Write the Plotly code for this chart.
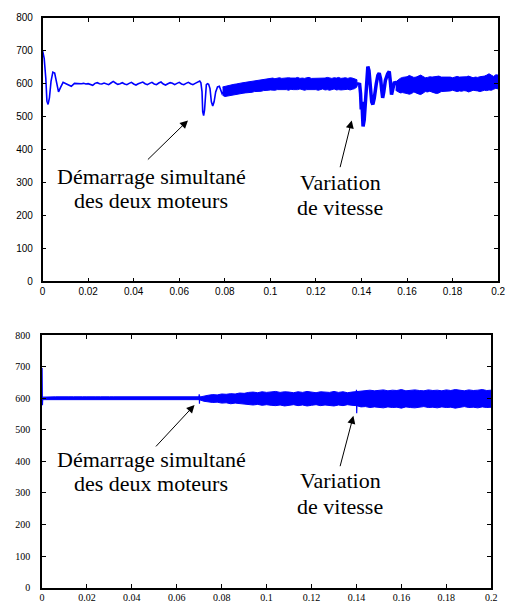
import plotly.graph_objects as go

W, H = 511, 605
BLUE = "#0000FF"

# ---------------- TOP PANEL DATA ----------------
# thin start-up line (0 .. 0.0794 s)
t_top_line = [0, 0.0002, 0.0007, 0.0014, 0.0019, 0.0024, 0.0030, 0.0037, 0.0045, 0.0053,
              0.0062, 0.0070, 0.0079, 0.0090, 0.0105, 0.0126,
              0.014, 0.015, 0.016, 0.017, 0.018, 0.019, 0.020, 0.021, 0.022, 0.023,
              0.024, 0.025, 0.026, 0.027, 0.028, 0.029, 0.030, 0.031, 0.032, 0.033,
              0.034, 0.035, 0.036, 0.037, 0.038, 0.039, 0.040, 0.041, 0.042, 0.043,
              0.044, 0.045, 0.046, 0.047, 0.048, 0.049, 0.050, 0.051, 0.052, 0.053,
              0.054, 0.055, 0.056, 0.057, 0.058, 0.059, 0.060, 0.061, 0.062, 0.063,
              0.064, 0.065, 0.066, 0.067, 0.068, 0.069, 0.0695,
              0.0700, 0.0703, 0.0707, 0.0711, 0.0715, 0.0719, 0.0724, 0.0729, 0.0735,
              0.0741, 0.0747, 0.0753, 0.0760, 0.0768, 0.0776, 0.0782, 0.0788, 0.0794]
v_top_line = [700, 695, 677, 617, 547, 537, 557, 607, 635, 632,
              597, 575, 589, 604, 599, 592,
              601, 600, 601, 600, 601, 599, 600, 597, 595, 601,
              603, 600, 599, 602, 600, 597, 602, 607, 602, 598,
              600, 603, 599, 597, 601, 604, 599, 596, 600, 602,
              605, 600, 597, 601, 604, 599, 597, 602, 605, 599,
              596, 600, 603, 601, 597, 601, 604, 599, 597, 601,
              604, 600, 597, 601, 604, 608, 603,
              575, 515, 503, 520, 570, 597, 600, 598, 585,
              545, 532, 545, 575, 590, 592, 580, 570, 575]

# noisy band before the speed change
t_top_band1 = [0.079, 0.080, 0.081, 0.082, 0.083, 0.084, 0.085, 0.086, 0.087, 0.088,
               0.089, 0.090, 0.091, 0.092, 0.093, 0.094, 0.095, 0.096, 0.097, 0.098,
               0.099, 0.100, 0.101, 0.102, 0.103, 0.104, 0.105, 0.106, 0.107, 0.108,
               0.109, 0.110, 0.111, 0.112, 0.113, 0.114, 0.115, 0.116, 0.117, 0.118,
               0.119, 0.120, 0.121, 0.122, 0.123, 0.124, 0.125, 0.126, 0.127, 0.128,
               0.129, 0.130, 0.131, 0.132, 0.133, 0.134, 0.135, 0.136, 0.137, 0.138]
hi_top_band1 = [590, 592, 594, 595, 597, 598, 599, 601, 602, 603,
                604, 605, 607, 608, 609, 610, 611, 612, 612, 614,
                614, 615, 617, 615, 616, 618, 616, 617, 616, 618,
                617, 616, 617, 619, 616, 617, 616, 618, 619, 616,
                616, 618, 617, 618, 616, 617, 619, 617, 616, 618,
                617, 619, 616, 617, 618, 616, 618, 617, 615, 612]
lo_top_band1 = [565, 561, 562, 564, 564, 566, 568, 568, 570, 571,
                572, 573, 574, 574, 576, 576, 577, 577, 579, 580,
                580, 581, 581, 580, 582, 583, 581, 582, 582, 580,
                583, 582, 581, 582, 584, 581, 580, 582, 583, 581,
                582, 582, 580, 582, 584, 581, 582, 580, 582, 584,
                581, 582, 581, 583, 582, 583, 581, 583, 585, 590]

# speed-change transient
t_top_tr = [0.1380, 0.1392, 0.1396, 0.1399, 0.1402, 0.1407, 0.1412, 0.1418, 0.1424, 0.1428,
            0.1433, 0.1440, 0.1445, 0.1450, 0.1456, 0.1465, 0.1472, 0.1478, 0.1484, 0.1489,
            0.1493, 0.1498, 0.1505, 0.1515, 0.1522, 0.1527, 0.1532, 0.1538, 0.1545, 0.1555]
v_top_tr = [600, 598, 570, 522, 545, 470, 490, 560, 625, 652,
            640, 580, 545, 537, 555, 600, 625, 632, 615, 580,
            557, 575, 610, 630, 637, 605, 567, 585, 605, 598]

# noisy band after the speed change
t_top_band2 = [0.155, 0.156, 0.157, 0.158, 0.159, 0.160, 0.161, 0.162, 0.163, 0.164,
               0.165, 0.166, 0.167, 0.168, 0.169, 0.170, 0.171, 0.172, 0.173, 0.174,
               0.175, 0.176, 0.177, 0.178, 0.179, 0.180, 0.181, 0.182, 0.183, 0.184,
               0.185, 0.186, 0.187, 0.188, 0.189, 0.190, 0.191, 0.192, 0.193, 0.194,
               0.195, 0.196, 0.197, 0.198, 0.199, 0.200]
hi_top_band2 = [605, 611, 616, 619, 619, 621, 625, 623, 619, 620,
                624, 626, 622, 618, 619, 621, 620, 621, 624, 623,
                620, 620, 619, 621, 620, 618, 620, 622, 620, 620,
                619, 621, 623, 620, 618, 620, 619, 621, 621, 623,
                626, 630, 626, 622, 627, 626]
lo_top_band2 = [580, 575, 572, 573, 572, 570, 568, 570, 575, 573,
                569, 567, 571, 576, 575, 577, 575, 572, 570, 572,
                576, 576, 578, 577, 578, 580, 578, 576, 578, 577,
                579, 578, 575, 577, 580, 578, 578, 576, 578, 580,
                579, 581, 580, 583, 586, 584]

# ---------------- BOTTOM PANEL DATA ----------------
t_bot_start = [0, 0.00005, 0.0001, 0.0002, 0.0003, 0.0005]
v_bot_start = [600, 696, 640, 578, 596, 600]

t_bot_band1 = [0.000, 0.002, 0.004, 0.006, 0.008, 0.010, 0.012, 0.014, 0.016, 0.018,
               0.020, 0.022, 0.024, 0.026, 0.028, 0.030, 0.032, 0.034, 0.036, 0.038,
               0.040, 0.042, 0.044, 0.046, 0.048, 0.050, 0.052, 0.054, 0.056, 0.058,
               0.060, 0.062, 0.064, 0.066, 0.068, 0.070]
hi_bot_band1 = [604, 605, 604, 605, 605, 604, 605, 605, 604, 605,
                605, 604, 605, 605, 604, 605, 605, 605, 604, 605,
                605, 604, 605, 605, 605, 604, 605, 604, 605, 605,
                605, 604, 605, 605, 604, 605]
lo_bot_band1 = [596, 596, 596, 595, 596, 596, 596, 596, 595, 596,
                596, 596, 595, 596, 596, 596, 596, 595, 596, 596,
                596, 596, 596, 595, 596, 596, 596, 596, 595, 596,
                596, 596, 595, 596, 596, 596]

t_bot_spike1 = [0.0698, 0.0700, 0.0701, 0.0702, 0.0704]
v_bot_spike1 = [600, 613, 583, 608, 600]

t_bot_band2 = [0.070, 0.072, 0.074, 0.076, 0.078, 0.080, 0.082, 0.084, 0.086, 0.088,
               0.090, 0.092, 0.094, 0.096, 0.098, 0.100, 0.102, 0.104, 0.106, 0.108,
               0.110, 0.112, 0.114, 0.116, 0.118, 0.120, 0.122, 0.124, 0.126, 0.128,
               0.130, 0.132, 0.134, 0.136, 0.138, 0.140, 0.142, 0.144, 0.146, 0.148,
               0.150, 0.152, 0.154, 0.156, 0.158, 0.160, 0.162, 0.164, 0.166, 0.168,
               0.170, 0.172, 0.174, 0.176, 0.178, 0.180, 0.182, 0.184, 0.186, 0.188,
               0.190, 0.192, 0.194, 0.196, 0.198, 0.200]
hi_bot_band2 = [604, 608, 610, 612, 611, 614, 613, 615, 614, 617,
                616, 619, 620, 618, 621, 619, 620, 622, 619, 621,
                620, 618, 621, 619, 622, 620, 618, 621, 620, 619,
                622, 619, 621, 618, 620, 621, 624, 623, 626, 624,
                625, 627, 624, 626, 625, 628, 624, 626, 627, 625,
                624, 627, 625, 626, 624, 627, 625, 628, 626, 624,
                627, 625, 626, 628, 625, 626]
lo_bot_band2 = [596, 591, 589, 587, 588, 585, 586, 583, 585, 582,
                583, 580, 579, 581, 578, 580, 578, 577, 579, 576,
                578, 580, 577, 579, 576, 578, 580, 577, 579, 578,
                576, 579, 577, 580, 578, 577, 573, 574, 571, 573,
                572, 570, 573, 571, 572, 569, 573, 571, 570, 572,
                574, 571, 572, 570, 573, 571, 572, 569, 572, 574,
                571, 572, 570, 573, 571, 572]

t_bot_spike2 = [0.1398, 0.1400, 0.1401, 0.1403, 0.1405]
v_bot_spike2 = [600, 627, 553, 610, 600]

x_tickvals = [0, 0.02, 0.04, 0.06, 0.08, 0.1, 0.12, 0.14, 0.16, 0.18, 0.2]
x_ticktext = ["0", "0.02", "0.04", "0.06", "0.08", "0.1", "0.12", "0.14", "0.16", "0.18", "0.2"]
y_tickvals = [0, 100, 200, 300, 400, 500, 600, 700, 800]

ann_start = ["Démarrage simultané", "des deux moteurs"]
ann_speed = ["Variation", "de vitesse"]

# ---------------- FIGURE ----------------
fig = go.Figure()


def band(t, lo, hi, xa, ya):
    fig.add_trace(go.Scatter(x=list(t) + list(t)[::-1], y=list(hi) + list(lo)[::-1],
                             fill="toself", fillcolor=BLUE, mode="lines",
                             line=dict(color=BLUE, width=1),
                             xaxis=xa, yaxis=ya, showlegend=False, hoverinfo="skip"))


def line(t, v, w, xa, ya):
    fig.add_trace(go.Scatter(x=t, y=v, mode="lines", line=dict(color=BLUE, width=w),
                             xaxis=xa, yaxis=ya, showlegend=False))


line(t_top_line, v_top_line, 1.6, "x", "y")
band(t_top_band1, lo_top_band1, hi_top_band1, "x", "y")
line(t_top_tr, v_top_tr, 3.5, "x", "y")
band(t_top_band2, lo_top_band2, hi_top_band2, "x", "y")

band(t_bot_band1, lo_bot_band1, hi_bot_band1, "x2", "y2")
line(t_bot_start, v_bot_start, 1.2, "x2", "y2")
line(t_bot_spike1, v_bot_spike1, 1.2, "x2", "y2")
band(t_bot_band2, lo_bot_band2, hi_bot_band2, "x2", "y2")
line(t_bot_spike2, v_bot_spike2, 1.2, "x2", "y2")


def px(x):
    return x / W


def py(y):
    return 1 - y / H


sans = dict(family="Liberation Sans, Arial, sans-serif", size=10, color="black")
serif_ticks = dict(family="Liberation Serif, Times New Roman, serif", size=10, color="black")

axis_common = dict(showgrid=False, zeroline=False, showline=True, linecolor="black",
                   linewidth=1.5, mirror="ticks", ticks="inside", ticklen=4,
                   tickcolor="black", tickwidth=1)

fig.update_layout(
    width=W, height=H, margin=dict(l=0, r=0, t=0, b=0),
    paper_bgcolor="white", plot_bgcolor="white", showlegend=False,
    xaxis=dict(domain=[px(40.3), px(504)], range=[0, 0.2], anchor="y",
               tickvals=x_tickvals, ticktext=x_ticktext, tickfont=sans, **axis_common),
    yaxis=dict(domain=[py(281), py(12)], range=[0, 800], anchor="x",
               tickvals=y_tickvals, tickfont=sans, ticklabelstandoff=6, **axis_common),
    xaxis2=dict(domain=[px(39.7), px(497)], range=[0, 0.2], anchor="y2",
                tickvals=x_tickvals, ticktext=x_ticktext, tickfont=serif_ticks, **axis_common),
    yaxis2=dict(domain=[py(593.3), py(336)], range=[0, 800], anchor="x2",
                tickvals=y_tickvals, tickfont=serif_ticks, ticklabelstandoff=8, **axis_common),
)

tfont = dict(family="Liberation Serif, Times New Roman, serif", size=22, color="black")
annos = []
# text lines: (text, center x px, center y px)
for txt, cx, cy in [(ann_start[0], 151, 173.5), (ann_start[1], 151, 198.5),
                    (ann_speed[0], 343.5, 180), (ann_speed[1], 343.5, 206),
                    (ann_start[0], 151, 462.5), (ann_start[1], 151, 487.5),
                    (ann_speed[0], 343.5, 484.5), (ann_speed[1], 343.5, 511)]:
    annos.append(dict(text=txt, x=px(cx), y=py(cy), xref="paper", yref="paper",
                      xanchor="center", yanchor="middle", showarrow=False, font=tfont))
# arrows: head (x, y) and tail offset (ax, ay) in pixels
for hx, hy, ax, ay in [(188.3, 116.7, -41.6, 40.6), (355, 116.7, -12, 48.3),
                       (195, 407, -40, 43), (356.7, 418, -13.7, 52)]:
    annos.append(dict(text="", x=px(hx), y=py(hy), xref="paper", yref="paper",
                      ax=ax, ay=ay, showarrow=True, arrowhead=2, arrowsize=1.6,
                      arrowwidth=1, arrowcolor="black", standoff=0))
fig.update_layout(annotations=annos)

fig.write_html("out.html")
